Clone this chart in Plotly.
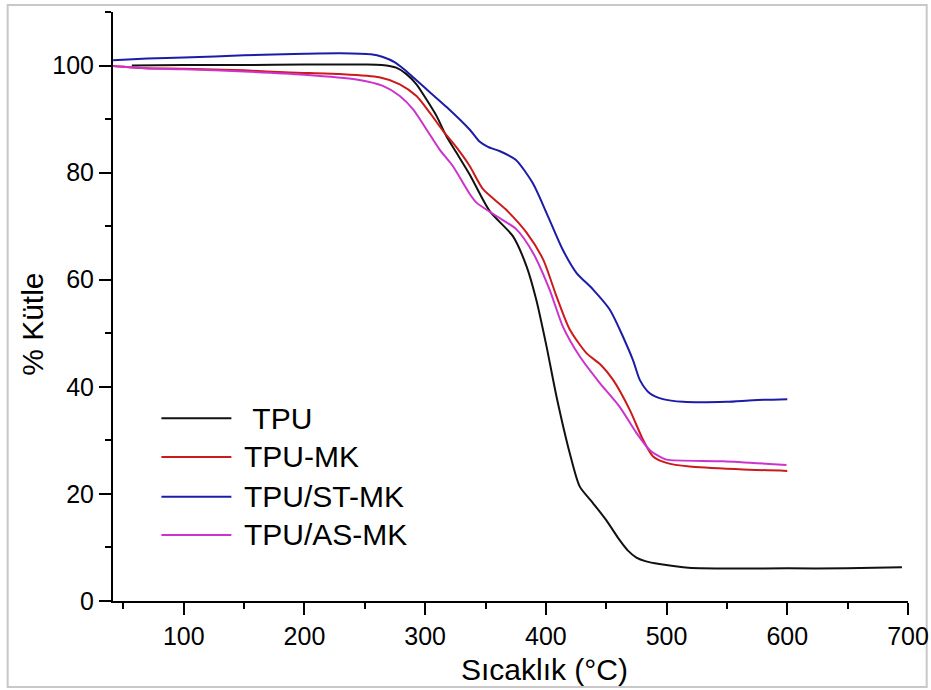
import plotly.graph_objects as go

# Thermogravimetric curves: temperature (°C) vs remaining mass (%)
tpu_T = [57, 100, 150, 200, 250, 264, 276, 284.5, 292.8, 301, 309.4, 317.6, 326, 337,
         353.5, 372.8, 384, 392, 400.5, 408.8, 419.8, 428, 439, 450, 461, 468, 475, 483,
         494, 513.7, 527.5, 600, 649, 695]
tpu_m = [100.0, 100.1, 100.1, 100.2, 100.2, 100.1, 99.6, 98.4, 96.5, 93.7, 90.6, 86.8,
         83.7, 79.6, 72.8, 68.1, 62.5, 56.3, 47.6, 38.2, 27.6, 21.4, 18.3, 15.1, 11.4,
         9.4, 8.1, 7.4, 6.9, 6.3, 6.1, 6.1, 6.1, 6.3]

mk_T = [41.5, 68, 100, 150, 188, 229, 262, 279, 292.8, 303.8, 314.8, 326, 337, 348,
        367, 384, 397.7, 408.8, 419.8, 433.6, 445, 455.7, 469.5, 480.5, 488.8, 500,
        519, 560, 600]
mk_m = [99.9, 99.5, 99.4, 99.1, 98.7, 98.4, 97.8, 96.5, 94.3, 91.2, 87.8, 84.7, 81.2,
        76.9, 73.1, 68.8, 63.8, 56.9, 50.7, 46.3, 44.2, 41.3, 35.7, 30.1, 27.0, 25.8,
        25.1, 24.6, 24.3]

st_T = [41.5, 70, 100, 150, 200, 230, 255, 265, 275, 283, 293, 305, 318, 337, 345,
        352, 362, 375, 389, 400.5, 414, 425.3, 439, 453, 472, 477.8, 486, 497, 513.7,
        549.6, 571.7, 600]
st_m = [101.0, 101.3, 101.5, 101.9, 102.2, 102.3, 102.1, 101.6, 100.6, 99.2, 97.2, 94.8,
        92.2, 88.0, 85.8, 84.8, 84.0, 82.4, 78.1, 72.5, 65.6, 61.3, 58.2, 54.4, 45.1,
        41.3, 38.8, 37.7, 37.2, 37.2, 37.5, 37.7]

as_T = [41.5, 68, 100, 150, 200, 243, 265, 279, 290, 301, 312, 323, 337, 342.5, 359,
        375.6, 389.4, 403, 414, 428, 444.7, 461, 475, 486, 494, 500, 546.8, 599.3]
as_m = [99.9, 99.5, 99.3, 98.9, 98.3, 97.4, 96.2, 94.3, 91.8, 88.1, 84.3, 81.2, 76.0,
        74.4, 71.9, 69.4, 65.0, 58.2, 51.3, 45.7, 40.7, 36.3, 31.4, 28.2, 27.0, 26.4,
        26.1, 25.4]

names = [" TPU", "TPU-MK", "TPU/ST-MK", "TPU/AS-MK"]
colors = ["#111111", "#CC1A1A", "#1C1CA8", "#CC33CC"]
series = [(tpu_T, tpu_m), (mk_T, mk_m), (st_T, st_m), (as_T, as_m)]

FONT = "Liberation Sans, Arial, sans-serif"

fig = go.Figure()
for (xs, ys), name, col in zip(series, names, colors):
    fig.add_trace(go.Scatter(x=xs, y=ys, mode="lines", name=name.strip(),
                             line=dict(color=col, width=2, shape="spline", smoothing=0.7),
                             showlegend=False))

axis_common = dict(showline=True, linecolor="black", linewidth=2, ticks="outside",
                   ticklen=12, tickwidth=2, tickcolor="black", showgrid=False,
                   zeroline=False, automargin=False,
                   tickfont=dict(family=FONT, size=25, color="black"))

fig.update_xaxes(range=[41.4, 700], tick0=0, dtick=100,
                 minor=dict(ticks="outside", ticklen=6, tickwidth=2, tickcolor="black",
                            dtick=50, tick0=0, showgrid=False),
                 **axis_common)
fig.update_yaxes(range=[0, 110], tick0=0, dtick=20,
                 minor=dict(ticks="outside", ticklen=6, tickwidth=2, tickcolor="black",
                            dtick=10, tick0=0, showgrid=False),
                 **axis_common)

annotations = [
    dict(text="Sıcaklık (°C)", x=0.543, y=-0.117, xref="paper", yref="paper",
         xanchor="center", yanchor="middle", showarrow=False,
         font=dict(family=FONT, size=30, color="black")),
    dict(text="% Kütle", x=-0.1023, y=0.47, xref="paper", yref="paper",
         xanchor="center", yanchor="middle", textangle=-90, showarrow=False,
         font=dict(family=FONT, size=30, color="black")),
]

shapes = [
    # outer frame
    dict(type="rect", xref="paper", yref="paper", x0=-0.1325, x1=1.0235,
         y0=-0.146, y1=1.0119, line=dict(color="#c8c8c8", width=2), layer="below"),
]

# legend block in the lower left of the plot area
legend_rows = [0.3102, 0.2445, 0.1771, 0.1121]
for name, col, ry in zip(names, colors, legend_rows):
    shapes.append(dict(type="line", xref="paper", yref="paper", x0=0.0609, x1=0.1489,
                       y0=ry, y1=ry, line=dict(color=col, width=2)))
    annotations.append(dict(text=name.replace(" ", "&nbsp;"), x=0.1619, y=ry,
                            xref="paper", yref="paper", xanchor="left",
                            yanchor="middle", showarrow=False,
                            font=dict(family=FONT, size=30, color="black")))

fig.update_layout(width=931, height=690, margin=dict(l=113, r=23, t=12, b=89),
                  paper_bgcolor="white", plot_bgcolor="white",
                  annotations=annotations, shapes=shapes)

fig.write_html("out.html")
